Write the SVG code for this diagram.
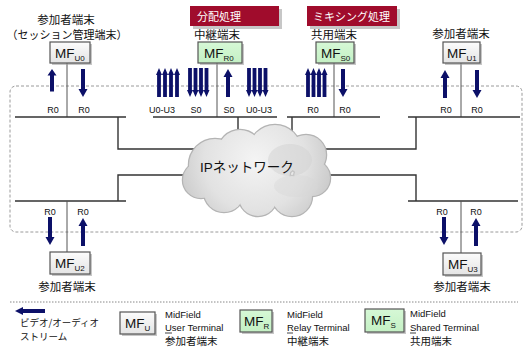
<svg xmlns="http://www.w3.org/2000/svg" xmlns:xlink="http://www.w3.org/1999/xlink" width="526" height="349" viewBox="0 0 526 349">
  <style>
    .jp { font-family: "Noto Sans CJK JP", sans-serif; fill: #111; }
    .lat { font-family: "Liberation Sans", "Noto Sans CJK JP", sans-serif; fill: #111; }
    .lbl { font-family: "Liberation Sans", sans-serif; font-size: 9px; fill: #111; }
    .tag { font-family: "Noto Sans CJK JP", sans-serif; font-size: 11px; fill: #fff; }
    .bar { stroke: #333; stroke-width: 1.4; fill: none; }
    .drop { stroke: #555; stroke-width: 1; fill: none; }
    .box-u { fill: url(#gU); stroke: #555; stroke-width: 1.2; }
    .box-g { fill: url(#gG); stroke: #555; stroke-width: 1.2; }
    .shadow { fill: #999; opacity: 0.55; }
    .arrow { fill: #0c1068; }
    .mf { font-family: "Liberation Sans", sans-serif; font-size: 13.5px; fill: #111; }
    .sub { font-size: 8px; }
    .leg { font-family: "Liberation Sans", sans-serif; font-size: 9.5px; fill: #111; }
  </style>
  <defs>
    <linearGradient id="gU" x1="0" y1="0" x2="0" y2="1">
      <stop offset="0" stop-color="#fcfcfc"/>
      <stop offset="1" stop-color="#e4e4e4"/>
    </linearGradient>
    <linearGradient id="gG" x1="0" y1="0" x2="0" y2="1">
      <stop offset="0" stop-color="#d6f8d6"/>
      <stop offset="1" stop-color="#c4f0c4"/>
    </linearGradient>
    <radialGradient id="gCloud" gradientUnits="userSpaceOnUse" cx="255" cy="160" r="85">
      <stop offset="0" stop-color="#f4f4f4"/>
      <stop offset="0.6" stop-color="#e2e2e2"/>
      <stop offset="1" stop-color="#c6c6c6"/>
    </radialGradient>
    <!-- single stream arrows -->
    <path id="arUp" d="M0,0 L4.5,8 L2,8 L2,28 L-2,28 L-2,8 L-4.5,8 Z"/>
    <path id="arDn" d="M0,28 L4.5,20 L2,20 L2,0 L-2,0 L-2,20 L-4.5,20 Z"/>
    <!-- narrow arrows used in bundles -->
    <path id="arUpN" d="M0,0 L3,7 L1.9,7 L1.9,29 L-1.9,29 L-1.9,7 L-3,7 Z"/>
    <path id="arDnN" d="M0,29 L3,22 L1.9,22 L1.9,0 L-1.9,0 L-1.9,22 L-3,22 Z"/>
    <g id="cloudShape">
      <circle cx="215" cy="165" r="26"/>
      <circle cx="240" cy="152" r="22"/>
      <circle cx="275" cy="151" r="26"/>
      <circle cx="306" cy="155" r="20"/>
      <circle cx="312" cy="178" r="18"/>
      <circle cx="292" cy="196" r="20"/>
      <circle cx="258" cy="197" r="19"/>
      <circle cx="224" cy="192" r="20"/>
      <circle cx="201" cy="180" r="18"/>
      <circle cx="256" cy="172" r="34"/>
    </g>
  </defs>

  <!-- network boundary -->
  <rect x="10" y="86" width="512" height="146" rx="6" ry="6" fill="none" stroke="#9a9a9a" stroke-width="1" stroke-dasharray="3,2"/>

  <!-- connectors -->
  <g id="connectors">
    <!-- top-left segment -->
    <line class="drop" x1="67" y1="63" x2="67" y2="117"/>
    <path class="bar" d="M15,117 H126 M118,117 V149 H210"/>
    <!-- relay segment -->
    <line class="drop" x1="217" y1="63" x2="217" y2="117"/>
    <path class="bar" d="M153,117 H277 M238,117 V150"/>
    <!-- shared segment -->
    <line class="drop" x1="334" y1="63" x2="334" y2="117"/>
    <path class="bar" d="M287,117 H380 M292,117 V140"/>
    <!-- top-right segment -->
    <line class="drop" x1="461" y1="63" x2="461" y2="117"/>
    <path class="bar" d="M408,117 H520 M416,117 V149 H310"/>
    <!-- bottom-left segment -->
    <path class="bar" d="M15,201 H126 M118,201 V175 H200"/>
    <line class="drop" x1="67" y1="201" x2="67" y2="252"/>
    <!-- bottom-right segment -->
    <path class="bar" d="M408,201 H518 M416,201 V175 H310"/>
    <line class="drop" x1="461" y1="201" x2="461" y2="253"/>
  </g>

  <!-- IP network cloud -->
  <g id="cloud">
    <use xlink:href="#cloudShape" fill="#b4b4b4" stroke="#b4b4b4" stroke-width="2.5"/>
    <use xlink:href="#cloudShape" fill="url(#gCloud)"/>
    <ellipse cx="290" cy="160" rx="22" ry="16" fill="#d2d2d2" opacity="0.5"/>
    <ellipse cx="296" cy="186" rx="22" ry="11" fill="#d6d6d6" opacity="0.4"/>
    <text class="lat" x="247" y="172" font-size="13.5" text-anchor="middle">IPネットワーク</text>
  </g>

  <!-- stream arrows -->
  <g id="streams" class="arrow">
    <!-- U0 -->
    <use xlink:href="#arUp" x="52" y="69" transform="translate(52 69) scale(1 0.8) translate(-52 -69)"/>
    <use xlink:href="#arDn" x="83" y="69"/>
    <!-- R0 relay -->
    <use xlink:href="#arUpN" x="159" y="68"/>
    <use xlink:href="#arUpN" x="165" y="68"/>
    <use xlink:href="#arUpN" x="171" y="68"/>
    <use xlink:href="#arUpN" x="177" y="68"/>
    <use xlink:href="#arDnN" x="190" y="68"/>
    <use xlink:href="#arDnN" x="195.5" y="68"/>
    <use xlink:href="#arDnN" x="201" y="68"/>
    <use xlink:href="#arDnN" x="206.5" y="68"/>
    <use xlink:href="#arUp" x="228" y="69"/>
    <use xlink:href="#arDnN" x="249" y="68"/>
    <use xlink:href="#arDnN" x="254.5" y="68"/>
    <use xlink:href="#arDnN" x="260" y="68"/>
    <use xlink:href="#arDnN" x="265.5" y="68"/>
    <!-- S0 shared -->
    <use xlink:href="#arUpN" x="308" y="68"/>
    <use xlink:href="#arUpN" x="313.5" y="68"/>
    <use xlink:href="#arUpN" x="319" y="68"/>
    <use xlink:href="#arUpN" x="324.5" y="68"/>
    <use xlink:href="#arDn" x="343" y="69"/>
    <!-- U1 -->
    <use xlink:href="#arUp" x="445" y="70"/>
    <use xlink:href="#arDn" x="477" y="70"/>
    <!-- U2 -->
    <use xlink:href="#arDn" x="50" y="217"/>
    <use xlink:href="#arUp" x="83" y="218"/>
    <!-- U3 -->
    <use xlink:href="#arDn" x="444" y="217"/>
    <use xlink:href="#arUp" x="476" y="218"/>
  </g>

  <!-- stream labels -->
  <g id="stream-labels" class="lbl" text-anchor="middle">
    <text x="53" y="113">R0</text>
    <text x="84" y="113">R0</text>
    <text x="162" y="113">U0-U3</text>
    <text x="196" y="113">S0</text>
    <text x="229" y="113">S0</text>
    <text x="259" y="113">U0-U3</text>
    <text x="313" y="113">R0</text>
    <text x="345" y="113">R0</text>
    <text x="446" y="113">R0</text>
    <text x="477" y="113">R0</text>
    <text x="50" y="215">R0</text>
    <text x="83" y="215">R0</text>
    <text x="442" y="215">R0</text>
    <text x="476" y="215">R0</text>
  </g>

  <!-- terminal U0 (session manager) -->
  <g id="node-u0">
    <text class="jp" x="66" y="24" font-size="11.5" text-anchor="middle">参加者端末</text>
    <text class="jp" x="67" y="39" font-size="11" text-anchor="middle">（セッション管理端末）</text>
    <rect class="shadow" x="52" y="44" width="40" height="21"/>
    <rect class="box-u" x="50" y="42" width="40" height="21"/>
    <text class="mf" x="55" y="58">MF<tspan class="sub" dy="3">U0</tspan></text>
  </g>

  <!-- relay terminal R0 -->
  <g id="node-r0">
    <rect x="193" y="9" width="89" height="20" fill="#999" opacity="0.55"/>
    <rect x="190" y="6" width="89" height="20" fill="#a00c2c"/>
    <text class="tag" x="197" y="20.5">分配処理</text>
    <text class="jp" x="217" y="39" font-size="11.5" text-anchor="middle">中継端末</text>
    <rect class="shadow" x="200" y="44" width="44" height="21"/>
    <rect class="box-g" x="198" y="42" width="44" height="21"/>
    <text class="mf" x="204" y="58">MF<tspan class="sub" dy="3">R0</tspan></text>
  </g>

  <!-- shared terminal S0 -->
  <g id="node-s0">
    <rect x="310" y="9" width="90" height="20" fill="#999" opacity="0.55"/>
    <rect x="307" y="6" width="90" height="20" fill="#a00c2c"/>
    <text class="tag" x="313" y="20.5">ミキシング処理</text>
    <text class="jp" x="334" y="39" font-size="11.5" text-anchor="middle">共用端末</text>
    <rect class="shadow" x="318" y="44" width="38" height="21"/>
    <rect class="box-g" x="316" y="42" width="38" height="21"/>
    <text class="mf" x="321" y="58">MF<tspan class="sub" dy="3">S0</tspan></text>
  </g>

  <!-- terminal U1 -->
  <g id="node-u1">
    <text class="jp" x="461" y="38" font-size="11.5" text-anchor="middle">参加者端末</text>
    <rect class="shadow" x="445" y="44" width="37" height="21"/>
    <rect class="box-u" x="443" y="42" width="37" height="21"/>
    <text class="mf" x="447" y="58">MF<tspan class="sub" dy="3">U1</tspan></text>
  </g>

  <!-- terminal U2 -->
  <g id="node-u2">
    <rect class="shadow" x="52" y="254" width="40" height="22"/>
    <rect class="box-u" x="50" y="252" width="40" height="22"/>
    <text class="mf" x="55" y="268">MF<tspan class="sub" dy="3">U2</tspan></text>
    <text class="jp" x="67" y="291" font-size="11.5" text-anchor="middle">参加者端末</text>
  </g>

  <!-- terminal U3 -->
  <g id="node-u3">
    <rect class="shadow" x="445" y="255" width="38" height="22"/>
    <rect class="box-u" x="443" y="253" width="38" height="22"/>
    <text class="mf" x="448" y="269">MF<tspan class="sub" dy="3">U3</tspan></text>
    <text class="jp" x="462" y="291" font-size="11.5" text-anchor="middle">参加者端末</text>
  </g>

  <!-- legend -->
  <g id="legend">
    <line x1="10" y1="302" x2="518" y2="302" stroke="#888" stroke-width="1" stroke-dasharray="1.5,1.5"/>
    <path class="arrow" d="M15,311 L23,307 L23,309 L45,309 L45,313 L23,313 L23,315 Z"/>
    <text class="jp" x="20" y="326" font-size="9.5">ビデオ/オーディオ</text>
    <text class="jp" x="20" y="340" font-size="9.5">ストリーム</text>

    <rect class="shadow" x="122" y="314" width="35" height="22"/>
    <rect class="box-u" x="120" y="312" width="35" height="22"/>
    <text class="mf" x="125" y="328">MF<tspan class="sub" dy="3">U</tspan></text>
    <text class="leg" x="165" y="318">MidField</text>
    <text class="leg" x="165" y="331">User Terminal</text>
    <line x1="165" y1="333" x2="172" y2="333" stroke="#111" stroke-width="0.8"/>
    <text class="jp" x="165" y="345" font-size="10.5">参加者端末</text>

    <rect class="shadow" x="242" y="312" width="32" height="22"/>
    <rect class="box-g" x="240" y="310" width="32" height="22"/>
    <text class="mf" x="244" y="326">MF<tspan class="sub" dy="3">R</tspan></text>
    <text class="leg" x="287" y="318">MidField</text>
    <text class="leg" x="287" y="331">Relay Terminal</text>
    <line x1="287" y1="333" x2="293" y2="333" stroke="#111" stroke-width="0.8"/>
    <text class="jp" x="287" y="345" font-size="10.5">中継端末</text>

    <rect class="shadow" x="367" y="311" width="39" height="23"/>
    <rect class="box-g" x="365" y="309" width="39" height="23"/>
    <text class="mf" x="371" y="325">MF<tspan class="sub" dy="3">S</tspan></text>
    <text class="leg" x="410" y="317">MidField</text>
    <text class="leg" x="410" y="331">Shared Terminal</text>
    <line x1="410" y1="333" x2="416" y2="333" stroke="#111" stroke-width="0.8"/>
    <text class="jp" x="410" y="345" font-size="10.5">共用端末</text>
  </g>
</svg>
